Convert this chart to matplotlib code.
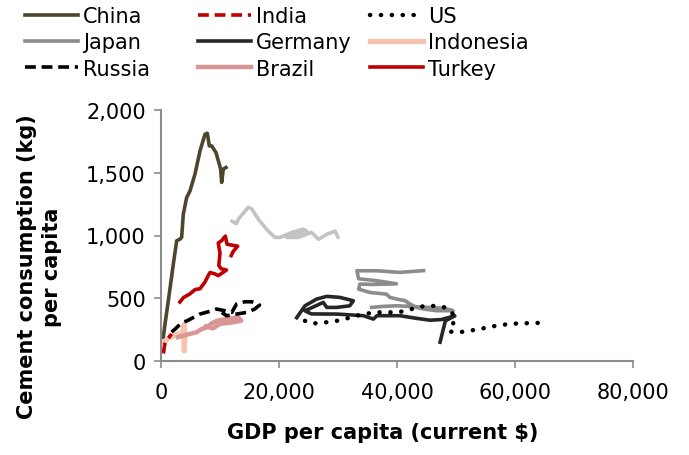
import numpy as np
import matplotlib
matplotlib.use("Agg")
import matplotlib.pyplot as plt
from matplotlib.ticker import FuncFormatter

# GDP per capita (current $) vs cement consumption per capita (kg)
china_x = [390, 680, 1240, 2090, 2660, 3220, 3500, 3780, 4350, 4920, 5760, 6610, 7460, 7850, 8190, 8590, 9320, 10110, 10280, 10560, 11010]
china_y = [189, 295, 480, 772, 958, 971, 985, 1170, 1303, 1356, 1489, 1674, 1807, 1815, 1714, 1714, 1661, 1529, 1423, 1529, 1542]

india_x = [400, 480, 560, 680, 800, 960, 1150, 1350, 1530, 1810]
india_y = [60, 82, 110, 140, 155, 165, 178, 188, 200, 215]

us_x = [24400, 25500, 27500, 29800, 31200, 33000, 34600, 36300, 38200, 40000, 41600, 43300, 45000, 46700, 48400,
        49800, 49500, 48900, 50400, 52400, 54100, 55800, 57700, 59400, 61100, 62800, 64800]
us_y = [320, 298, 305, 320, 335, 360, 375, 388, 388, 388, 400, 427, 440, 438, 425,
        360, 295, 235, 228, 242, 255, 273, 287, 297, 300, 302, 305]

japan_x = [44500, 40500, 36600, 33200, 33500, 36600, 39900, 36000, 33700, 33500, 35400, 38200, 38800, 39900,
           41400, 42200, 43300, 44500, 46700, 49500, 48000, 44000, 40000, 37500, 35700]
japan_y = [720, 706, 719, 719, 655, 640, 615, 610, 613, 573, 546, 533, 507, 494,
           480, 454, 427, 414, 401, 401, 420, 430, 440, 435, 427]

germany_x = [23000, 24400, 26400, 28100, 30300, 32600, 32000, 29800, 28100, 27500, 24400, 25500, 29800, 34300,
             36000, 36600, 40500, 43300, 45600, 47500, 49800, 48200, 47300]
germany_y = [345, 440, 494, 515, 507, 480, 440, 427, 427, 467, 400, 375, 374, 361,
             334, 361, 361, 340, 325, 330, 360, 320, 150]

indonesia_x = [500, 900, 1200, 1600, 2100, 2600, 3100, 3600, 3950, 4050, 3950, 3900]
indonesia_y = [155, 165, 178, 190, 198, 210, 215, 215, 295, 200, 80, 160]

russia_x = [1800, 2400, 3500, 4400, 6600, 8600, 9400, 10900, 12000, 12800, 14200, 15400, 16700, 15900, 14500, 12800, 11100, 10300]
russia_y = [230, 255, 305, 320, 374, 400, 414, 400, 387, 454, 472, 472, 446, 414, 387, 374, 361, 387]

brazil_x = [2900, 3800, 4800, 6000, 6900, 7700, 8600, 9500, 11100, 13100, 13600, 12500, 11600, 10000, 8800, 7600]
brazil_y = [190, 202, 215, 228, 255, 268, 300, 321, 334, 348, 321, 310, 305, 295, 260, 275]

turkey_x = [3200, 3800, 4900, 5800, 6600, 7400, 8000, 8300, 9100, 9700, 10800, 11100, 10200, 9800, 10000, 9700,
            10300, 10900, 11200, 13000, 12200, 11900]
turkey_y = [470, 505, 535, 570, 575, 625, 680, 705, 695, 680, 715, 725, 735, 760, 860, 940,
            960, 995, 930, 915, 870, 840]

# light grey series with no legend entry
other_x = [12000, 12800, 13100, 14800, 15400, 16500, 17900, 19300, 20200, 22200, 24100, 24700, 22700, 21300,
           23300, 25500, 26700, 28100, 29500, 30000]
other_y = [1115, 1095, 1130, 1225, 1210, 1130, 1050, 985, 985, 1025, 1050, 1035, 1010, 985,
           985, 1025, 970, 1010, 1035, 985]

plt.rcParams['font.family'] = ['DejaVu Sans']

fig = plt.figure(figsize=(6.89, 4.56), dpi=100)
ax = fig.add_axes([161/689, 94/456, 472/689, 251/456])

lw = 2.6
dash = (0, (3, 1.6))
dot = (0, (0.05, 2.4))

ax.plot(other_x, other_y, color="#c3c3c3", lw=lw, solid_capstyle="round")
l_china, = ax.plot(china_x, china_y, color="#4d462d", lw=lw, label="China")
l_japan, = ax.plot(japan_x, japan_y, color="#8c8c8c", lw=lw, label="Japan")
l_germany, = ax.plot(germany_x, germany_y, color="#262626", lw=lw, label="Germany")
l_us, = ax.plot(us_x, us_y, color="black", lw=lw + 0.6, ls=dot, dash_capstyle="round", label="US")
l_indonesia, = ax.plot(indonesia_x, indonesia_y, color="#f6c3b1", lw=lw + 1.2, label="Indonesia")
l_brazil, = ax.plot(brazil_x, brazil_y, color="#d99694", lw=lw + 0.6, label="Brazil")
l_russia, = ax.plot(russia_x, russia_y, color="black", lw=lw, ls=dash, label="Russia")
l_india, = ax.plot(india_x, india_y, color="#c00000", lw=lw, ls=dash, label="India")
l_turkey, = ax.plot(turkey_x, turkey_y, color="#c00000", lw=lw, label="Turkey")

ax.set_xlim(0, 80000)
ax.set_ylim(0, 2000)
ax.set_xticks([0, 20000, 40000, 60000, 80000])
ax.set_yticks([0, 500, 1000, 1500, 2000])
fmt = FuncFormatter(lambda v, p: f"{int(v):,}")
ax.xaxis.set_major_formatter(fmt)
ax.yaxis.set_major_formatter(fmt)

for s in ["top", "right"]:
    ax.spines[s].set_visible(False)
for s in ["left", "bottom"]:
    ax.spines[s].set_color("#8c8c8c")
    ax.spines[s].set_linewidth(1.5)
ax.tick_params(colors="#8c8c8c", labelcolor="black", labelsize=15, length=5, width=1.2)
ax.tick_params(axis="x", pad=10)
ax.tick_params(axis="y", pad=6)

ax.set_xlabel("GDP per capita (current $)", fontsize=15, fontweight="bold")
ax.xaxis.set_label_coords(0.47, -0.243)
ax.set_ylabel("Cement consumption (kg)\nper capita", fontsize=15, fontweight="bold", linespacing=1.3)
ax.yaxis.set_label_coords(-0.21, 0.378)

cols = [[l_china, l_japan, l_russia], [l_india, l_germany, l_brazil], [l_us, l_indonesia, l_turkey]]
xs = [25, 198, 370]
for hs, x0 in zip(cols, xs):
    fig.legend(handles=hs, loc="upper left", bbox_to_anchor=(x0/689, 1 - 7/456), frameon=False,
               fontsize=15, handlelength=2.55, handletextpad=0.25, labelspacing=0.3,
               borderpad=0, borderaxespad=0)

fig.savefig("out.png", dpi=100)
